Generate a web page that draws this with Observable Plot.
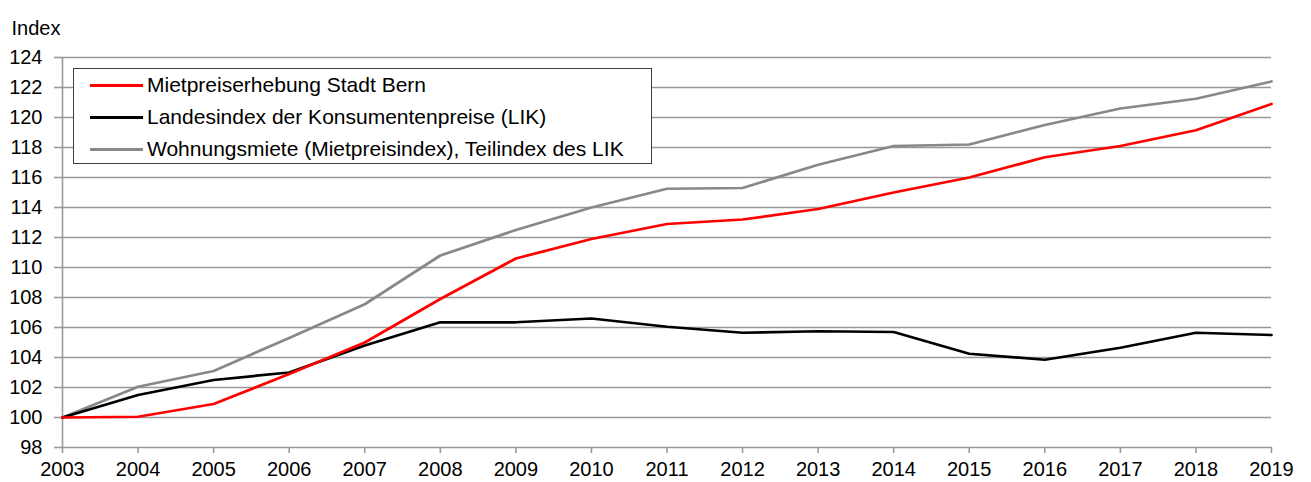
<!DOCTYPE html>
<html>
<head>
<meta charset="utf-8">
<script src="https://cdn.jsdelivr.net/npm/d3@7"></script>
<script src="https://cdn.jsdelivr.net/npm/@observablehq/plot@0.6"></script>
<style>
  html, body { margin: 0; padding: 0; background: #fff; }
  #wrap { position: relative; width: 1311px; height: 482px; font-family: "Liberation Sans", Arial, sans-serif; }
  #legend { position: absolute; left: 73px; top: 68px; width: 579px; height: 96px; box-sizing: border-box;
            border: 1.5px solid #404040; background: #fff; font-size: 21px; color: #000; padding-top: 0px; }
  .row { display: flex; align-items: center; height: 32px; }
  .sw { width: 53px; height: 0; border-top: 3px solid; margin-left: 16px; margin-right: 4px; }
</style>
</head>
<body>
<div id="wrap"></div>
<script>
const years = [2003,2004,2005,2006,2007,2008,2009,2010,2011,2012,2013,2014,2015,2016,2017,2018,2019];
const mietpreisBern = [100,100.05,100.9,102.9,105.0,107.9,110.6,111.9,112.9,113.2,113.9,115.0,116.0,117.35,118.1,119.15,120.9];
const lik = [100,101.5,102.5,103.0,104.8,106.35,106.35,106.6,106.05,105.65,105.75,105.7,104.25,103.85,104.65,105.65,105.5];
const wohnungsmiete = [100,102.05,103.1,105.3,107.55,110.8,112.5,114.0,115.25,115.3,116.85,118.1,118.2,119.5,120.6,121.25,122.4];
const seriesNames = ["Mietpreiserhebung Stadt Bern","Landesindex der Konsumentenpreise (LIK)","Wohnungsmiete (Mietpreisindex), Teilindex des LIK"];
const seriesColors = ["#ff0000","#000000","#888888"];
const yTicks = d3.range(98, 125, 2);
const yLabel = "Index";

const data = [];
[mietpreisBern, lik, wohnungsmiete].forEach((arr, i) => {
  arr.forEach((v, j) => data.push({year: years[j], value: v, series: seriesNames[i]}));
});
// draw order: gray, black, red on top
const order = [seriesNames[2], seriesNames[1], seriesNames[0]];

const chart = Plot.plot({
  width: 1311,
  height: 482,
  marginLeft: 62,
  marginRight: 40,
  marginTop: 57,
  marginBottom: 35,
  style: {fontFamily: "'Liberation Sans', Arial, sans-serif", fontSize: "20px", color: "#000", background: "#fff"},
  x: {domain: [2003, 2019], ticks: years, tickFormat: "d", label: null},
  y: {domain: [98, 124], ticks: yTicks, label: null},
  color: {domain: seriesNames, range: seriesColors},
  marks: [
    Plot.gridY(yTicks, {stroke: "#999", strokeOpacity: 1, strokeWidth: 1.6}),
    Plot.ruleX([2003], {stroke: "#999", strokeWidth: 1.6}),
    Plot.axisY(yTicks, {tickSize: 8, tickPadding: 12, stroke: "#999", strokeWidth: 1.6, fill: "#000", fontSize: 20}),
    Plot.axisX(years, {tickSize: 6, tickPadding: 8, stroke: "#999", strokeWidth: 1.6, fill: "#000", fontSize: 20, tickFormat: "d"}),
    ...order.map(name => Plot.line(data.filter(d => d.series === name), {
      x: "year", y: "value", stroke: seriesColors[seriesNames.indexOf(name)], strokeWidth: 2.75, strokeLinejoin: "round"
    })),
    Plot.text([yLabel], {frameAnchor: "top-left", dx: -51, dy: -37, text: d => d, textAnchor: "start", fill: "#000", fontSize: 20})
  ]
});

const wrap = document.getElementById("wrap");
wrap.appendChild(chart);
const legend = document.createElement("div");
legend.id = "legend";
seriesNames.forEach((n, i) => {
  const row = document.createElement("div");
  row.className = "row";
  const sw = document.createElement("span");
  sw.className = "sw";
  sw.style.borderTopColor = seriesColors[i];
  const t = document.createElement("span");
  t.textContent = n;
  row.appendChild(sw); row.appendChild(t);
  legend.appendChild(row);
});
wrap.appendChild(legend);
</script>
</body>
</html>
